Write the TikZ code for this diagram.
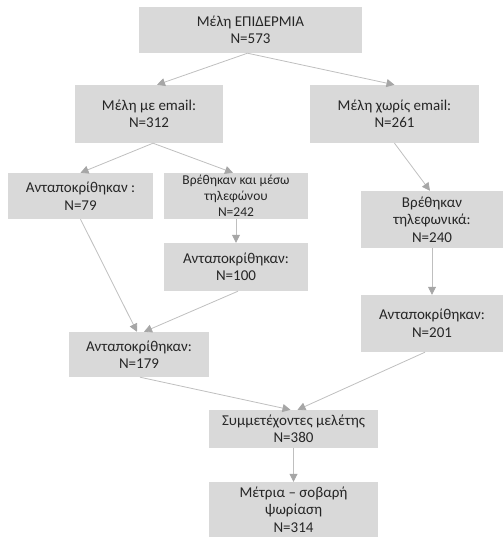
\documentclass[tikz,border=0pt]{standalone}
\usepackage{fontspec}
\setmainfont{Carlito}
\usetikzlibrary{arrows.meta}
\definecolor{boxgray}{HTML}{D9D9D9}
\definecolor{linegray}{HTML}{BFBFBF}
\definecolor{tipgray}{HTML}{A6A6A6}
\definecolor{textgray}{HTML}{262626}

\begin{document}
\begin{tikzpicture}[
    x=1pt, y=-1pt,
    box/.style={fill=boxgray, inner sep=0pt, align=center, text=textgray,
        font=\fontsize{15}{17.5}\selectfont},
    smallbox/.style={box, font=\fontsize{13.5}{16.2}\selectfont},
    flow/.style={draw=linegray, line width=0.8pt,
        -{Triangle[width=8pt,length=8pt,color=tipgray]}}
]
\useasboundingbox (0,0) rectangle (503,538);

\node[box, minimum width=223pt, minimum height=46pt] (all) at (250.5,30) {Μέλη ΕΠΙΔΕΡΜΙΑ\\N=573};
\node[box, minimum width=148pt, minimum height=58pt] (email) at (149,114) {Μέλη με email:\\N=312};
\node[box, minimum width=169pt, minimum height=58pt] (noemail) at (394.5,114) {Μέλη χωρίς email:\\N=261};
\node[box, minimum width=145pt, minimum height=46pt] (resp79) at (80.5,196) {Ανταποκρίθηκαν :\\N=79};
\node[smallbox, minimum width=144pt, minimum height=46pt] (phone242) at (236,196) {Βρέθηκαν και μέσω\\τηλεφώνου\\N=242};
\node[box, minimum width=144pt, minimum height=48pt] (resp100) at (236,267) {Ανταποκρίθηκαν:\\N=100};
\node[box, minimum width=142pt, minimum height=57pt] (phone240) at (432,219.5) {Βρέθηκαν\\τηλεφωνικά:\\N=240};
\node[box, minimum width=142pt, minimum height=57pt] (resp201) at (432,323.5) {Ανταποκρίθηκαν:\\N=201};
\node[box, minimum width=140pt, minimum height=45pt] (resp179) at (139,354.5) {Ανταποκρίθηκαν:\\N=179};
\node[box, minimum width=169pt, minimum height=38pt] (study) at (293.5,429) {Συμμετέχοντες μελέτης\\N=380};
\node[box, minimum width=169pt, minimum height=55pt] (psor) at (293.5,509.5) {Μέτρια – σοβαρή\\ψωρίαση\\N=314};

% connectors
\draw[flow] ([xshift=-3pt]all.south) -- ([xshift=8pt]email.north);
\draw[flow] ([xshift=-3pt]all.south) -- (noemail.north);
\draw[flow] ([xshift=4pt]email.south) -- (resp79.north);
\draw[flow] ([xshift=4pt]email.south) -- ([xshift=-3pt]phone242.north);
\draw[flow] (noemail.south) -- ([xshift=-2pt]phone240.north);
\draw[flow] (resp79.south) -- ([xshift=-2pt]resp179.north);
\draw[flow] (phone242.south) -- (resp100.north);
\draw[flow] ([xshift=2pt]resp100.south) -- ([xshift=5pt]resp179.north);
\draw[flow] (phone240.south) -- (resp201.north);
\draw[flow] ([xshift=1pt]resp179.south) -- ([xshift=-3pt]study.north);
\draw[flow] ([xshift=-7pt]resp201.south) -- ([xshift=4pt]study.north);
\draw[flow] (study.south) -- (psor.north);
\end{tikzpicture}
\end{document}
